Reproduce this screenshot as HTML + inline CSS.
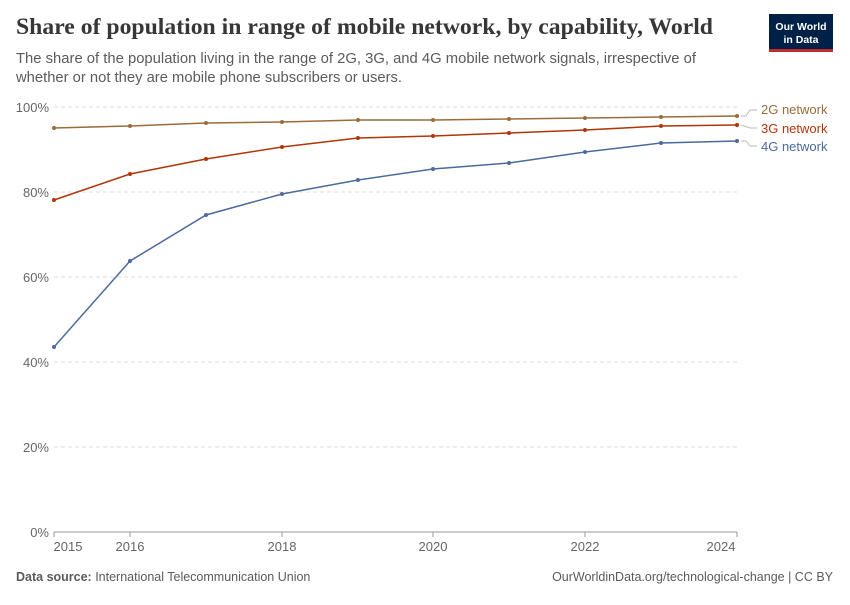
<!DOCTYPE html>
<html><head><meta charset="utf-8"><style>
body{margin:0;background:#fff;width:850px;height:600px;overflow:hidden;font-family:"Liberation Sans",sans-serif}
</style></head><body>
<svg width="850" height="600" xmlns="http://www.w3.org/2000/svg" font-family="Liberation Sans, sans-serif">
<text x="16" y="34" font-family="Liberation Serif, serif" font-size="23" font-weight="bold" fill="#373737" textLength="697" lengthAdjust="spacingAndGlyphs">Share of population in range of mobile network, by capability, World</text>
<text x="16" y="63" font-size="14.8" fill="#5b5b5b" textLength="680" lengthAdjust="spacingAndGlyphs">The share of the population living in the range of 2G, 3G, and 4G mobile network signals, irrespective of</text>
<text x="16" y="82" font-size="14.8" fill="#5b5b5b" textLength="386" lengthAdjust="spacingAndGlyphs">whether or not they are mobile phone subscribers or users.</text>
<rect x="769" y="14" width="64" height="36" fill="#002147"/>
<rect x="769" y="49" width="64" height="3" fill="#be2d2d"/>
<text x="801" y="30" font-size="10.5" fill="#fff" text-anchor="middle" font-weight="bold">Our World</text>
<text x="801" y="43" font-size="10.5" fill="#fff" text-anchor="middle" font-weight="bold">in Data</text>
<g stroke="#ddd" stroke-dasharray="4,3">
<line x1="54" x2="737" y1="107" y2="107"/><line x1="54" x2="737" y1="192" y2="192"/>
<line x1="54" x2="737" y1="277" y2="277"/><line x1="54" x2="737" y1="362" y2="362"/>
<line x1="54" x2="737" y1="447" y2="447"/></g>
<line x1="54" x2="737" y1="532" y2="532" stroke="#999"/>
<g font-size="13" fill="#666" text-anchor="end">
<text x="49" y="112">100%</text><text x="49" y="197">80%</text><text x="49" y="282">60%</text>
<text x="49" y="367">40%</text><text x="49" y="452">20%</text><text x="49" y="537">0%</text></g>
<g font-size="13" fill="#666" text-anchor="middle">
<text x="68" y="551">2015</text><text x="130" y="551">2016</text><text x="282" y="551">2018</text>
<text x="433" y="551">2020</text><text x="585" y="551">2022</text><text x="721" y="551">2024</text></g>
<g stroke="#999"><line x1="54" y1="532" x2="54" y2="537"/><line x1="130" y1="532" x2="130" y2="537"/><line x1="282" y1="532" x2="282" y2="537"/><line x1="433" y1="532" x2="433" y2="537"/><line x1="585" y1="532" x2="585" y2="537"/><line x1="737" y1="532" x2="737" y2="537"/></g>
<g fill="none" stroke-width="1.5">
<polyline stroke="#986d39" points="54,128 130,126 206,123 282,122 358,120 433,120 509,119 585,118 661,117 737,116"/>
<polyline stroke="#b13507" points="54,200 130,174 206,159 282,147 358,138 433,136 509,133 585,130 661,126 737,125"/>
<polyline stroke="#4c6a9c" points="54,347 130,261 206,215 282,194 358,180 433,169 509,163 585,152 661,143 737,141"/>
</g>
<g fill="#986d39"><circle cx="54" cy="128" r="2"/><circle cx="130" cy="126" r="2"/><circle cx="206" cy="123" r="2"/><circle cx="282" cy="122" r="2"/><circle cx="358" cy="120" r="2"/><circle cx="433" cy="120" r="2"/><circle cx="509" cy="119" r="2"/><circle cx="585" cy="118" r="2"/><circle cx="661" cy="117" r="2"/><circle cx="737" cy="116" r="2"/></g>
<g fill="#b13507"><circle cx="54" cy="200" r="2"/><circle cx="130" cy="174" r="2"/><circle cx="206" cy="159" r="2"/><circle cx="282" cy="147" r="2"/><circle cx="358" cy="138" r="2"/><circle cx="433" cy="136" r="2"/><circle cx="509" cy="133" r="2"/><circle cx="585" cy="130" r="2"/><circle cx="661" cy="126" r="2"/><circle cx="737" cy="125" r="2"/></g>
<g fill="#4c6a9c"><circle cx="54" cy="347" r="2"/><circle cx="130" cy="261" r="2"/><circle cx="206" cy="215" r="2"/><circle cx="282" cy="194" r="2"/><circle cx="358" cy="180" r="2"/><circle cx="433" cy="169" r="2"/><circle cx="509" cy="163" r="2"/><circle cx="585" cy="152" r="2"/><circle cx="661" cy="143" r="2"/><circle cx="737" cy="141" r="2"/></g>
<g fill="none" stroke="#bbb"><polyline points="741,116 746,116 750,110 757,110"/><polyline points="741,125 750,128 757,128"/><polyline points="741,141 746,141 750,146 757,146"/></g>
<g font-size="13"><text x="761" y="114" fill="#986d39">2G network</text><text x="761" y="133" fill="#b13507">3G network</text><text x="761" y="151" fill="#4c6a9c">4G network</text></g>
<text x="16" y="581" font-size="12.5" fill="#5b5b5b"><tspan font-weight="bold">Data source:</tspan> International Telecommunication Union</text>
<text x="833" y="581" font-size="12.5" fill="#5b5b5b" text-anchor="end">OurWorldinData.org/technological-change | CC BY</text>
</svg>
</body></html>
